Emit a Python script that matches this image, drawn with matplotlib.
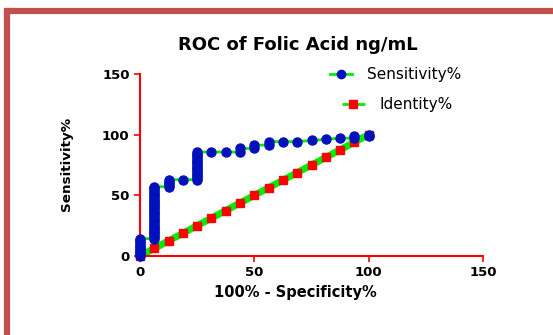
import matplotlib.pyplot as plt
from matplotlib.lines import Line2D
from matplotlib.patches import Rectangle

# ROC points (100% - Specificity%, Sensitivity%)
sens_x = [0] * 11 + [6.25] * 31 + [12.5] * 5 + [18.75] + [25] * 17 + \
         [31.25, 37.5, 43.75, 43.75, 50, 50, 56.25, 56.25,
          62.5, 68.75, 75, 81.25, 87.5, 93.75, 93.75, 100, 100]
sens_y = [0, 1.4, 2.9, 4.3, 5.7, 7.1, 8.6, 10, 11.4, 12.9, 14.3,
          14.3, 15.7, 17.1, 18.6, 20, 21.4, 22.9, 24.3, 25.7, 27.1, 28.6, 30, 31.4, 32.9, 34.3,
          35.7, 37.1, 38.6, 40, 41.4, 42.9, 44.3, 45.7, 47.1, 48.6, 50, 51.4, 52.9, 54.3, 55.7, 57.1,
          57.1, 58.6, 60, 61.4, 62.9,
          62.9,
          62.9, 64.3, 65.7, 67.1, 68.6, 70, 71.4, 72.9, 74.3, 75.7, 77.1, 78.6, 80, 81.4, 82.9, 84.3, 85.7,
          85.7, 85.7, 85.7, 88.6, 88.6, 91.4, 91.4, 94.3,
          94.3, 94.3, 95.2, 96.2, 97.1, 97.1, 98.6, 98.6, 100]

ident = [0, 6.25, 12.5, 18.75, 25, 31.25, 37.5, 43.75, 50, 56.25,
         62.5, 68.75, 75, 81.25, 87.5, 93.75, 100]

fig = plt.figure(figsize=(5.53, 3.35), dpi=100)
fig.patches.append(Rectangle((7 / 553, -0.2), 1.2, 1 - 11 / 335 + 0.2,
                             transform=fig.transFigure, fill=False,
                             edgecolor='#c0504d', linewidth=4.5))

ax = fig.add_axes([140 / 553, (335 - 256) / 335, 343 / 553, 182 / 335])
ax.plot(ident, ident, color='#00ee00', linewidth=5, zorder=2, clip_on=False)
ax.plot(ident, ident, color='red', marker='s', markersize=5.5, linestyle='None', zorder=3, clip_on=False)
ax.plot(sens_x, sens_y, color='#00ee00', linewidth=2, zorder=4, clip_on=False)
ax.plot(sens_x, sens_y, color='#0011bb', marker='o', markersize=6.5, linestyle='None', zorder=5, clip_on=False)

ax.set_xlim(0, 150)
ax.set_ylim(0, 150)
ax.set_xticks([0, 50, 100, 150])
ax.set_yticks([0, 50, 100, 150])
for s in ['top', 'right']:
    ax.spines[s].set_visible(False)
for s in ['left', 'bottom']:
    ax.spines[s].set_color('red')
    ax.spines[s].set_linewidth(1.5)
ax.tick_params(colors='red', length=4, width=1.2, labelcolor='black')
for lab in ax.get_xticklabels() + ax.get_yticklabels():
    lab.set_fontweight('bold')
    lab.set_fontsize(9.5)

fig.text(298 / 553, 1 - 45 / 335, "ROC of Folic Acid ng/mL", fontsize=13, fontweight='bold',
         ha='center', va='center')
ax.set_xlabel("100% - Specificity%", fontsize=10.5, fontweight='bold')
ax.xaxis.set_label_coords((295 - 140) / 343, -(293 - 256) / 182)
ax.xaxis.label.set_va('center')
ax.set_ylabel("Sensitivity%", fontsize=9.7, fontweight='bold')
ax.yaxis.set_label_coords((67 - 140) / 343, (256 - 164) / 182)
ax.yaxis.label.set_va('center')

h1 = Line2D([], [], color='#00ee00', linewidth=2, marker='o', markersize=6,
            markerfacecolor='#0011bb', markeredgecolor='#0011bb')
h2 = Line2D([], [], color='#00ee00', linewidth=2, linestyle='--', marker='s', markersize=6,
            markerfacecolor='red', markeredgecolor='red')
leg1 = fig.legend([h1], ["Sensitivity%"], loc='center left', bbox_to_anchor=(330 / 553, 1 - 75 / 335),
                  frameon=False, fontsize=11, handlelength=1.45, handletextpad=1.0,
                  borderpad=0, borderaxespad=0)
leg2 = fig.legend([h2], ["Identity%"], loc='center left', bbox_to_anchor=(342 / 553, 1 - 105 / 335),
                  frameon=False, fontsize=11, handlelength=1.5, handletextpad=0.95,
                  borderpad=0, borderaxespad=0)

fig.savefig("out.png", dpi=100)
